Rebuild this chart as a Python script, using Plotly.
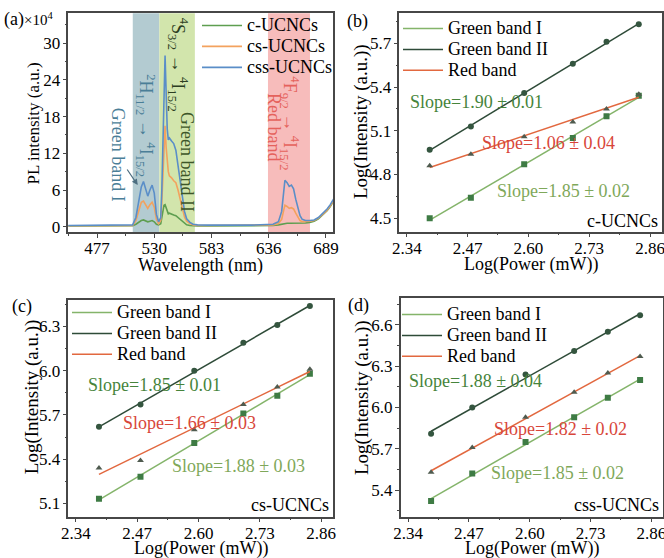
import numpy as np
import plotly.graph_objects as go

FONT = "Liberation Serif, Times New Roman, serif"

# ---------------- Panel (a): PL spectra (x10^4) ----------------
wavelength = [450, 505, 510, 513, 516, 518, 520, 522, 524, 526, 528, 530, 532, 534,
              536, 537, 538, 539, 540, 541, 542, 543, 544, 546, 548, 550, 552, 554,
              556, 558, 560, 563, 566, 570, 580, 600, 620, 640, 645, 648, 650, 651,
              653, 655, 657, 659, 661, 663, 665, 667, 670, 674, 678, 682, 686, 690,
              693, 696]
css_ucncs = [0.2, 0.2, 0.3, 1.5, 4.5, 6.5, 7.4, 6.2, 5.0, 6.0, 6.8, 5.5, 2.0, 0.8,
             1.5, 6.0, 15.0, 24.0, 28.0, 22.0, 16.0, 14.2, 14.5, 14.0, 13.6, 12.5, 10.0, 8.0,
             5.0, 2.5, 1.3, 0.7, 0.4, 0.3, 0.25, 0.25, 0.25, 0.4, 0.8, 2.5, 6.5, 7.6,
             7.2, 6.6, 6.8, 6.2, 4.5, 3.0, 1.8, 1.2, 1.0, 1.0, 1.1, 1.5, 2.2, 2.9,
             3.6, 4.5]
cs_ucncs = [0.15, 0.15, 0.2, 1.0, 3.0, 4.0, 4.2, 3.6, 3.0, 3.6, 4.0, 3.2, 1.2, 0.5,
            1.0, 4.0, 9.0, 14.0, 16.5, 13.0, 10.5, 9.0, 8.3, 8.0, 7.5, 7.2, 6.0, 4.5,
            3.0, 1.6, 0.9, 0.5, 0.3, 0.2, 0.2, 0.2, 0.2, 0.3, 0.5, 1.2, 2.8, 3.5,
            3.3, 3.0, 3.1, 2.9, 2.2, 1.5, 1.0, 0.8, 0.8, 0.9, 1.0, 1.4, 2.0, 2.7,
            3.4, 4.3]
c_ucncs = [0.1, 0.1, 0.15, 0.4, 0.8, 1.0, 1.1, 0.9, 0.8, 0.9, 1.0, 0.8, 0.4, 0.3,
           0.5, 1.5, 2.8, 3.5, 3.6, 3.0, 2.3, 2.1, 2.2, 2.0, 1.9, 1.8, 1.5, 1.1,
           0.8, 0.5, 0.3, 0.2, 0.15, 0.1, 0.1, 0.1, 0.1, 0.2, 0.3, 0.4, 0.5, 0.55,
           0.55, 0.55, 0.55, 0.55, 0.5, 0.5, 0.5, 0.55, 0.6, 0.7, 0.9, 1.3, 1.9, 2.6,
           3.3, 4.2]
spectra_names = ["c-UCNCs", "cs-UCNCs", "css-UCNCs"]
wl_ticks = [477, 530, 583, 636, 689]
pl_ticks = [0, 6, 12, 18, 24, 30]
band_green1 = [510.1, 534.7]
band_green2 = [534.7, 567.6]
band_red = [635.3, 674.2]

# ---------------- Panels (b)-(d): power dependence ----------------
log_power = [2.389, 2.477, 2.591, 2.695, 2.767, 2.836]
b_green1 = [4.50, 4.64, 4.87, 5.05, 5.20, 5.34]
b_green2 = [4.97, 5.13, 5.36, 5.56, 5.71, 5.83]
b_red = [4.86, 4.94, 5.06, 5.16, 5.25, 5.35]
c_green1 = [5.13, 5.28, 5.51, 5.71, 5.83, 5.98]
c_green2 = [5.62, 5.77, 6.00, 6.19, 6.31, 6.44]
c_red = [5.34, 5.39, 5.60, 5.77, 5.89, 6.01]
d_green1 = [5.32, 5.52, 5.75, 5.93, 6.07, 6.20]
d_green2 = [5.81, 6.00, 6.24, 6.41, 6.55, 6.67]
d_red = [5.53, 5.71, 5.93, 6.11, 6.25, 6.37]
band_names = ["Green band I", "Green band II", "Red band"]
slopes_b = ["Slope=1.85 ± 0.02", "Slope=1.90 ± 0.01", "Slope=1.06 ± 0.04"]
slopes_c = ["Slope=1.88 ± 0.03", "Slope=1.85 ± 0.01", "Slope=1.66 ± 0.03"]
slopes_d = ["Slope=1.85 ± 0.02", "Slope=1.88 ± 0.04", "Slope=1.82 ± 0.02"]
sample_names = ["c-UCNCs", "cs-UCNCs", "css-UCNCs"]
power_ticks = [2.34, 2.47, 2.60, 2.73, 2.86]

# ---------------- styles ----------------
W, H = 664, 558


def dx(l, r):
    return [l / W, r / W]


def dy(t, b):
    return [1 - b / H, 1 - t / H]


def px(xp):
    return xp / W


def py(yp):
    return 1 - yp / H


def big(name, size=18):
    return "<span style='font-size:%dpx'>%s</span>" % (size, name)


spec_colors = ["#5e9e50", "#f3a25e", "#5a8ec8"]
band_fill = ["#b3cbd1", "#d2e5ac", "#f7bcbb"]
line_cols = ["#84b46a", "#2e4b38", "#e2683f"]
mark_cols = ["#3e7b44", "#34553f", "#4f5b4f"]
slope_cols = ["#7fa85a", "#46843b", "#d8463a"]
symbols = ["square", "circle", "triangle-up"]

fig = go.Figure()

for name, ys, col in zip(spectra_names, [c_ucncs, cs_ucncs, css_ucncs], spec_colors):
    fig.add_trace(go.Scatter(x=wavelength, y=ys, mode="lines", name=big(name),
                             line=dict(color=col, width=1.6),
                             xaxis="x", yaxis="y", legend="legend"))

for (x0, x1), colr in zip([band_green1, band_green2, band_red], band_fill):
    fig.add_shape(type="rect", xref="x", yref="y domain", x0=x0, x1=x1, y0=0, y1=1,
                  fillcolor=colr, line_width=0, layer="below")

panels = [
    ("x2", "y2", "legend2", [b_green1, b_green2, b_red]),
    ("x3", "y3", "legend3", [c_green1, c_green2, c_red]),
    ("x4", "y4", "legend4", [d_green1, d_green2, d_red]),
]
for xa, ya, lg, series in panels:
    for i, ys in enumerate(series):
        k, b0 = np.polyfit(log_power, ys, 1)
        xf = [log_power[0], log_power[-1]]
        yf = [k * v + b0 for v in xf]
        fig.add_trace(go.Scatter(x=xf, y=yf, mode="lines", name=big(band_names[i]),
                                 line=dict(color=line_cols[i], width=1.5),
                                 xaxis=xa, yaxis=ya, legend=lg))
        fig.add_trace(go.Scatter(x=log_power, y=ys, mode="markers", showlegend=False,
                                 marker=dict(symbol=symbols[i], size=6, color=mark_cols[i]),
                                 xaxis=xa, yaxis=ya))

tickfont = dict(family=FONT, size=17, color="black")
base = dict(showline=True, linecolor="#474747", linewidth=1.5, mirror=True,
            ticks="outside", ticklen=4, tickwidth=1.2, tickcolor="#474747",
            showgrid=False, zeroline=False, tickfont=tickfont, automargin=False,
            ticklabeloverflow="allow")
xbase = dict(base, ticklabelstandoff=-4)
ybase = dict(base, ticklabelstandoff=-1)


def minor(d, t0):
    return dict(ticks="outside", ticklen=2, tickcolor="#474747", dtick=d, tick0=t0)


px_range = [2.324, 2.885]
layout_axes = dict(
    xaxis=dict(xbase, domain=dx(68.3, 333.3), range=[450.4, 695.8], anchor="y",
               tickvals=wl_ticks, minor=minor(26.5, 477)),
    yaxis=dict(ybase, domain=dy(13.3, 232), range=[-0.87, 34.9], anchor="x",
               tickvals=pl_ticks, minor=minor(3, 0)),
    xaxis2=dict(xbase, domain=dx(399.3, 661.7), range=px_range, anchor="y2",
                tickvals=power_ticks, tickformat=".2f", minor=minor(0.065, 2.34)),
    yaxis2=dict(ybase, domain=dy(12.7, 231.7), range=[4.408, 5.91], anchor="x2",
                dtick=0.3, tick0=4.5, tickformat=".1f", minor=minor(0.15, 4.5)),
    xaxis3=dict(xbase, domain=dx(68.3, 333.0), range=px_range, anchor="y3",
                tickvals=power_ticks, tickformat=".2f", minor=minor(0.065, 2.34)),
    yaxis3=dict(ybase, domain=dy(300, 516.7), range=[5.009, 6.48], anchor="x3",
                dtick=0.3, tick0=5.1, tickformat=".1f", minor=minor(0.15, 5.1)),
    xaxis4=dict(xbase, domain=dx(400.7, 663.0), range=px_range, anchor="y4",
                tickvals=power_ticks, tickformat=".2f", minor=minor(0.065, 2.34)),
    yaxis4=dict(ybase, domain=dy(298.3, 516.7), range=[5.206, 6.794], anchor="x4",
                dtick=0.3, tick0=5.4, tickformat=".1f", minor=minor(0.15, 5.4)),
)

# legend font size sets the row pitch; the visible text size comes from the span
leg = dict(bgcolor="rgba(0,0,0,0)", font=dict(family=FONT, size=13.8, color="black"),
           xanchor="left", yanchor="top", itemwidth=40, tracegroupgap=0)

ann = []


def A(text, x, y, xref, yref, size=18, color="black", angle=0, xanchor="center", yanchor="middle"):
    ann.append(dict(text=text, x=x, y=y, xref=xref, yref=yref, showarrow=False,
                    font=dict(family=FONT, size=size, color=color), textangle=angle,
                    xanchor=xanchor, yanchor=yanchor))


# panel labels & axis titles
A("(a)<span style='font-size:15px'>×10<sup>4</sup></span>", px(2), py(19), "paper", "paper", size=18, xanchor="left")
A("(b)", px(357.5), py(21.5), "paper", "paper", size=18)
A("(c)", px(22), py(306), "paper", "paper", size=18)
A("(d)", px(359), py(305), "paper", "paper", size=18)
A("PL intensity (a.u.)", px(32.5), py(124), "paper", "paper", size=17, angle=-90)
A("Wavelength (nm)", px(200.8), py(265), "paper", "paper", size=18)
for xt, yt, x_t, y_t in [(361, 122, 530.5, 264.5), (31.5, 396.7, 200.7, 548.5), (361.5, 397.5, 531.8, 548.5)]:
    A("Log(Intensity (a.u.))", px(xt), py(yt), "paper", "paper", size=19, angle=-90)
    A("Log(Power (mW))", px(x_t), py(y_t), "paper", "paper", size=18)

# panel (a) band annotations
teal = "#4a7e97"
olive = "#3d5628"
coral = "#e5625c"
A("Green band I", 496.7, 11.7, "x", "y", color=teal, angle=90)
A("<sup>2</sup>H<sub>11/2</sub> → <sup>4</sup>I<sub>15/2</sub>", 522.4, 16.6, "x", "y", color=teal, angle=90)
A("<sup>4</sup>S<sub>3/2</sub> → <sup>4</sup>I<sub>15/2</sub>", 552.0, 26.5, "x", "y", color="#2c3d22", angle=90)
A("Green band II", 560.1, 10.6, "x", "y", color=olive, angle=90)
A("<sup>4</sup>F<sub>9/2</sub> → <sup>4</sup>I<sub>15/2</sub>", 655.7, 16.9, "x", "y", color=coral, angle=90)
A("Red band", 640.9, 16.3, "x", "y", color=coral, angle=90)
ann.append(dict(x=514.7, y=6.8, ax=504.0, ay=9.6, xref="x", yref="y", axref="x", ayref="y",
                text="", showarrow=True, arrowhead=2, arrowsize=1, arrowwidth=1.2,
                arrowcolor="#4d6e80"))

# slope annotations (green I, green II, red)
slope_pos = {
    ("x2", "y2"): [(2.6748, 4.689), (2.4897, 5.300), (2.6436, 5.014)],
    ("x3", "y3"): [(2.6837, 5.355), (2.5067, 5.904), (2.5798, 5.643)],
    ("x4", "y4"): [(2.6593, 5.521), (2.4846, 6.195), (2.6664, 5.845)],
}
for (xa, ya), texts, name, ny in zip(slope_pos.keys(), [slopes_b, slopes_c, slopes_d],
                                     sample_names, [4.484, 5.088, 5.291]):
    for (sx, sy), t, colr in zip(slope_pos[(xa, ya)], texts, slope_cols):
        A(t, sx, sy, xa, ya, color=colr)
    A(name, 2.881, ny, xa, ya, xanchor="right")

fig.update_layout(
    width=W, height=H, margin=dict(l=0, r=0, t=0, b=0),
    paper_bgcolor="white", plot_bgcolor="white",
    font=dict(family=FONT, color="black"),
    legend=dict(leg, x=px(197), y=py(10)),
    legend2=dict(leg, x=px(398), y=py(13)),
    legend3=dict(leg, x=px(67), y=py(297)),
    legend4=dict(leg, x=px(397), y=py(299)),
    annotations=ann,
    **layout_axes,
)

fig.write_html("out.html", config={"displayModeBar": False},
               post_script="document.body.style.margin='0';document.body.style.overflow='hidden';")
